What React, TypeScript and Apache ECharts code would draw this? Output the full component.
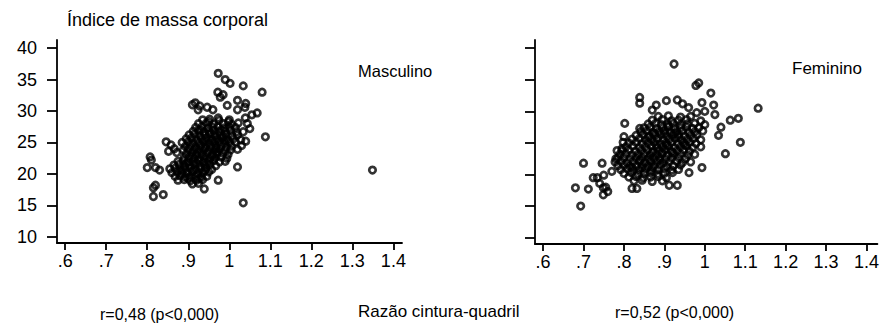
import React, { useEffect, useRef } from "react";
import * as echarts from "echarts";

const xTicks = [0.6, 0.7, 0.8, 0.9, 1.0, 1.1, 1.2, 1.3, 1.4];
const yTicks = [10, 15, 20, 25, 30, 35, 40];

const titleText = "Índice de massa corporal";
const xAxisTitle = "Razão cintura-quadril";
const panelNames = ["Masculino", "Feminino"];
const corrTexts = ["r=0,48 (p<0,000)", "r=0,52 (p<0,000)"];

// Masculino: [razão cintura-quadril, IMC]
const masculino: [number, number][] = [
  [0.973, 36.0], [0.99, 35.0], [1.002, 34.4], [1.034, 34.0], [1.08, 33.0], [0.972, 33.0],
  [0.978, 32.2], [0.985, 32.6], [1.02, 31.7], [1.04, 31.2], [1.038, 30.6], [0.917, 31.3],
  [0.91, 31.0], [0.928, 30.8], [0.946, 30.6], [0.995, 30.9], [0.96, 30.2], [1.068, 29.7],
  [1.055, 29.4], [0.924, 30.2], [1.02, 30.2], [0.973, 28.9], [1.0, 28.6], [1.039, 28.9],
  [1.044, 28.0], [1.034, 26.7], [1.088, 25.9], [1.05, 27.2],
  [0.935, 28.6], [0.952, 28.7], [0.975, 28.5], [0.998, 28.3],
  [0.925, 28.0], [0.944, 28.1], [0.962, 27.9], [0.985, 28.0], [1.005, 27.9], [1.022, 28.1],
  [0.918, 27.4], [0.933, 27.5], [0.948, 27.3], [0.96, 27.4], [0.972, 27.5], [0.988, 27.3], [1.0, 27.4], [1.015, 27.4],
  [0.912, 26.8], [0.925, 26.9], [0.938, 26.7], [0.95, 26.8], [0.962, 26.9], [0.975, 26.7], [0.99, 26.8], [1.003, 26.9], [1.018, 26.7],
  [0.902, 26.2], [0.915, 26.3], [0.928, 26.1], [0.94, 26.2], [0.952, 26.3], [0.965, 26.1], [0.978, 26.2], [0.992, 26.3], [1.006, 26.1], [1.02, 26.2],
  [0.895, 25.6], [0.908, 25.7], [0.92, 25.5], [0.932, 25.6], [0.945, 25.7], [0.957, 25.5], [0.97, 25.6], [0.983, 25.7], [0.995, 25.5], [1.01, 25.6], [1.028, 25.4],
  [0.885, 25.0], [0.9, 25.1], [0.912, 24.9], [0.925, 25.0], [0.937, 25.1], [0.95, 24.9], [0.962, 25.0], [0.975, 25.1], [0.988, 24.9], [1.0, 25.0], [1.015, 25.1],
  [0.893, 24.4], [0.905, 24.5], [0.918, 24.3], [0.93, 24.4], [0.943, 24.5], [0.955, 24.3], [0.968, 24.4], [0.98, 24.5], [0.993, 24.3], [1.005, 24.4],
  [0.888, 23.8], [0.9, 23.9], [0.913, 23.7], [0.925, 23.8], [0.938, 23.9], [0.95, 23.7], [0.963, 23.8], [0.976, 23.9], [0.99, 23.7], [1.003, 23.8], [1.02, 23.9],
  [0.895, 23.2], [0.908, 23.3], [0.92, 23.1], [0.933, 23.2], [0.945, 23.3], [0.958, 23.1], [0.97, 23.2], [0.984, 23.3], [0.997, 23.1],
  [0.89, 22.6], [0.902, 22.7], [0.915, 22.5], [0.928, 22.6], [0.94, 22.7], [0.953, 22.5], [0.966, 22.6], [0.98, 22.7], [0.994, 22.5],
  [0.875, 22.0], [0.888, 22.1], [0.9, 21.9], [0.912, 22.0], [0.925, 22.1], [0.937, 21.9], [0.95, 22.0], [0.962, 22.1], [0.976, 21.9], [0.99, 22.0],
  [0.865, 21.4], [0.878, 21.5], [0.89, 21.3], [0.903, 21.4], [0.915, 21.5], [0.928, 21.3], [0.94, 21.4], [0.953, 21.5], [0.967, 21.3],
  [0.855, 20.8], [0.868, 20.9], [0.88, 20.7], [0.892, 20.8], [0.905, 20.9], [0.918, 20.7], [0.93, 20.8], [0.943, 20.9], [0.957, 20.7],
  [0.86, 20.2], [0.873, 20.3], [0.885, 20.1], [0.898, 20.2], [0.91, 20.3], [0.923, 20.1], [0.936, 20.2], [0.95, 20.3],
  [0.868, 19.6], [0.88, 19.7], [0.893, 19.5], [0.905, 19.6], [0.918, 19.7], [0.932, 19.5], [0.945, 19.6],
  [0.875, 19.0], [0.89, 19.1], [0.905, 18.9], [0.92, 19.0], [0.935, 19.1],
  [0.91, 18.4], [0.925, 18.5],
  [0.93, 27.0], [0.955, 26.5], [0.98, 27.0], [0.942, 25.3], [0.966, 25.3], [0.99, 25.3],
  [0.918, 24.0], [0.942, 24.1], [0.968, 24.0], [0.91, 22.8], [0.935, 22.9], [0.96, 22.8],
  [0.895, 21.7], [0.92, 21.7], [0.945, 21.7], [0.885, 20.5], [0.912, 20.5], [0.94, 20.5],
  [0.9, 19.3], [0.925, 19.3], [0.97, 23.5], [0.985, 26.0], [0.95, 28.3],
  [0.8, 21.0], [0.807, 22.7], [0.81, 22.2], [0.82, 21.0], [0.83, 20.6], [0.815, 17.8], [0.839, 16.7],
  [0.815, 16.4], [0.82, 18.2], [0.846, 25.1], [0.858, 24.6], [0.866, 24.0], [0.852, 23.6], [0.872, 23.4],
  [1.02, 21.1], [0.973, 19.0], [0.939, 17.6], [1.034, 15.4], [1.349, 20.6], [1.03, 24.5], [1.04, 25.2],
];

// Feminino: [razão cintura-quadril, IMC]
const feminino: [number, number][] = [
  [0.924, 37.5], [0.978, 34.1], [0.985, 34.5], [1.015, 32.9], [0.839, 32.2], [0.839, 31.3],
  [0.905, 31.7], [0.932, 31.8], [0.945, 31.2], [0.993, 31.4], [1.022, 31.0], [1.132, 30.5],
  [1.063, 28.6], [1.083, 28.9], [0.802, 28.1], [0.839, 27.3], [1.088, 25.1], [1.051, 23.3],
  [1.034, 26.2], [1.04, 27.5], [1.025, 29.5], [0.88, 31.0], [0.87, 30.2], [0.96, 30.6],
  [0.98, 29.8], [1.0, 30.0],
  [0.7, 21.8], [0.746, 21.8], [0.68, 17.9], [0.712, 17.7], [0.693, 15.0], [0.749, 16.8],
  [0.734, 19.5], [0.74, 18.6], [0.755, 18.0], [0.75, 19.9], [0.77, 20.5], [0.76, 17.3],
  [0.82, 17.8], [0.832, 17.8], [0.912, 18.3], [0.932, 18.3], [0.961, 20.3], [0.993, 21.1],
  [0.795, 24.1], [0.78, 22.5], [0.8, 26.0], [0.798, 25.1], [0.783, 23.8], [0.724, 19.5], [0.749, 17.9],
  [0.885, 29.2], [0.91, 29.3], [0.94, 29.1], [0.965, 29.2],
  [0.87, 28.6], [0.895, 28.7], [0.918, 28.5], [0.935, 28.6], [0.955, 28.7], [0.99, 28.5],
  [0.86, 28.0], [0.878, 28.1], [0.893, 27.9], [0.908, 28.0], [0.922, 28.1], [0.94, 27.9], [0.957, 28.0], [0.975, 28.1], [1.0, 27.9],
  [0.85, 27.4], [0.865, 27.5], [0.88, 27.3], [0.895, 27.4], [0.91, 27.5], [0.925, 27.3], [0.94, 27.4], [0.955, 27.5], [0.97, 27.3], [0.985, 27.4],
  [0.842, 26.8], [0.857, 26.9], [0.872, 26.7], [0.887, 26.8], [0.9, 26.9], [0.915, 26.7], [0.93, 26.8], [0.945, 26.9], [0.96, 26.7], [0.976, 26.8], [0.995, 26.9],
  [0.83, 26.2], [0.848, 26.3], [0.862, 26.1], [0.877, 26.2], [0.892, 26.3], [0.906, 26.1], [0.92, 26.2], [0.935, 26.3], [0.95, 26.1], [0.965, 26.2], [0.98, 26.3],
  [0.82, 25.6], [0.838, 25.7], [0.853, 25.5], [0.868, 25.6], [0.883, 25.7], [0.897, 25.5], [0.912, 25.6], [0.927, 25.7], [0.942, 25.5], [0.957, 25.6], [0.972, 25.7], [0.99, 25.5],
  [0.812, 25.0], [0.83, 25.1], [0.845, 24.9], [0.86, 25.0], [0.875, 25.1], [0.89, 24.9], [0.904, 25.0], [0.918, 25.1], [0.933, 24.9], [0.948, 25.0], [0.963, 25.1], [0.978, 24.9],
  [0.805, 24.4], [0.822, 24.5], [0.838, 24.3], [0.853, 24.4], [0.868, 24.5], [0.882, 24.3], [0.896, 24.4], [0.91, 24.5], [0.925, 24.3], [0.94, 24.4], [0.955, 24.5], [0.97, 24.3], [0.99, 24.4],
  [0.795, 23.8], [0.812, 23.9], [0.828, 23.7], [0.843, 23.8], [0.858, 23.9], [0.872, 23.7], [0.887, 23.8], [0.902, 23.9], [0.917, 23.7], [0.932, 23.8], [0.947, 23.9], [0.962, 23.7],
  [0.79, 23.2], [0.805, 23.3], [0.82, 23.1], [0.835, 23.2], [0.85, 23.3], [0.865, 23.1], [0.88, 23.2], [0.894, 23.3], [0.908, 23.1], [0.923, 23.2], [0.94, 23.3], [0.958, 23.1], [0.975, 23.2],
  [0.785, 22.6], [0.8, 22.7], [0.815, 22.5], [0.83, 22.6], [0.845, 22.7], [0.86, 22.5], [0.874, 22.6], [0.888, 22.7], [0.903, 22.5], [0.918, 22.6], [0.935, 22.7], [0.952, 22.5],
  [0.778, 22.0], [0.793, 22.1], [0.808, 21.9], [0.823, 22.0], [0.838, 22.1], [0.852, 21.9], [0.867, 22.0], [0.882, 22.1], [0.897, 21.9], [0.912, 22.0], [0.93, 22.1], [0.945, 21.9], [0.965, 22.0],
  [0.785, 21.4], [0.8, 21.5], [0.815, 21.3], [0.83, 21.4], [0.845, 21.5], [0.86, 21.3], [0.875, 21.4], [0.89, 21.5], [0.906, 21.3], [0.922, 21.4], [0.94, 21.5],
  [0.792, 20.8], [0.808, 20.9], [0.823, 20.7], [0.838, 20.8], [0.853, 20.9], [0.868, 20.7], [0.885, 20.8], [0.9, 20.9], [0.918, 20.7], [0.935, 20.8],
  [0.8, 20.2], [0.818, 20.3], [0.835, 20.1], [0.85, 20.2], [0.866, 20.3], [0.884, 20.1], [0.9, 20.2], [0.92, 20.3],
  [0.812, 19.6], [0.83, 19.7], [0.848, 19.5], [0.866, 19.6], [0.885, 19.7], [0.905, 19.5],
  [0.825, 19.0], [0.845, 19.1], [0.87, 18.9], [0.895, 19.0],
  [0.875, 26.5], [0.9, 26.5], [0.925, 26.5], [0.95, 24.7], [0.88, 24.7], [0.905, 24.7],
  [0.87, 23.5], [0.895, 23.5], [0.92, 23.5], [0.84, 22.3], [0.865, 22.3], [0.89, 22.3],
  [0.82, 21.1], [0.845, 21.1], [0.87, 21.1], [0.91, 27.7], [0.935, 25.9], [0.86, 25.9],
];

const FONT = "'Liberation Sans', Arial, sans-serif";
const INK = "#000";

function fmtX(v: number): string {
  const r = Math.round(v * 10) / 10;
  return String(r).replace(/^0\./, ".");
}

function makeText(text: string, x: number, y: number, size: number) {
  return {
    type: "text",
    x,
    y,
    silent: true,
    style: {
      text,
      fill: INK,
      font: `${size}px ${FONT}`,
      align: "left",
      verticalAlign: "middle",
      textAlign: "left",
      textVerticalAlign: "middle",
    },
  };
}

export default function App() {
  const ref = useRef<HTMLDivElement>(null);

  useEffect(() => {
    document.body.style.margin = "0";
    if (!ref.current) return;
    const chart = echarts.init(ref.current, null, { renderer: "svg" });

    const axisLine = { show: true, onZero: false, lineStyle: { color: INK, width: 1.8 } };

    const xAxisFor = (gridIndex: number, max: number) => ({
      type: "value",
      gridIndex,
      min: 0.58,
      max,
      splitLine: { show: false },
      axisLine,
      axisTick: {
        show: true,
        inside: false,
        length: 7,
        customValues: xTicks,
        lineStyle: { color: INK, width: 1.8 },
      },
      axisLabel: {
        show: true,
        customValues: xTicks,
        margin: 9,
        color: INK,
        fontFamily: FONT,
        fontSize: 18,
        formatter: (v: number) => fmtX(v),
      },
    });

    const yAxisFor = (gridIndex: number, showLabels: boolean) => ({
      type: "value",
      gridIndex,
      min: 9,
      max: 41.3,
      splitLine: { show: false },
      axisLine,
      axisTick: {
        show: true,
        inside: false,
        length: 10,
        customValues: yTicks,
        lineStyle: { color: INK, width: 1.8 },
      },
      axisLabel: {
        show: showLabels,
        customValues: yTicks,
        margin: 20,
        color: INK,
        fontFamily: FONT,
        fontSize: 18,
      },
    });

    const pointStyle = {
      color: "rgba(0,0,0,0)",
      borderColor: "#000",
      borderWidth: 2.7,
    };

    chart.setOption({
      animation: false,
      backgroundColor: "#fff",
      grid: [
        { left: 57, top: 40, width: 345, height: 203 },
        { left: 535, top: 40, width: 347, height: 204 },
      ],
      xAxis: [xAxisFor(0, 1.421), xAxisFor(1, 1.427)],
      yAxis: [yAxisFor(0, true), yAxisFor(1, false)],
      series: [
        {
          name: panelNames[0],
          type: "scatter",
          xAxisIndex: 0,
          yAxisIndex: 0,
          symbol: "circle",
          symbolSize: 6.5,
          itemStyle: pointStyle,
          data: masculino,
        },
        {
          name: panelNames[1],
          type: "scatter",
          xAxisIndex: 1,
          yAxisIndex: 1,
          symbol: "circle",
          symbolSize: 6.5,
          itemStyle: pointStyle,
          data: feminino,
        },
      ],
      graphic: [
        makeText(titleText, 67, 20, 18),
        makeText(panelNames[0], 358, 71, 16.5),
        makeText(panelNames[1], 792, 68, 17),
        makeText(corrTexts[0], 100, 314, 16),
        makeText(xAxisTitle, 358, 311, 17),
        makeText(corrTexts[1], 615, 312, 16),
      ],
    });

    return () => {
      chart.dispose();
    };
  }, []);

  return <div ref={ref} style={{ width: 882, height: 325 }} />;
}
